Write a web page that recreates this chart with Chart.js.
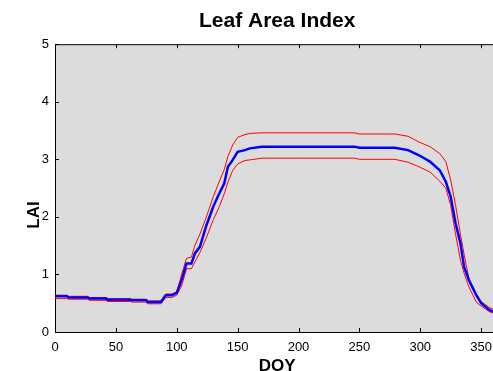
<!DOCTYPE html>
<html>
<head>
<meta charset="utf-8">
<script src="https://cdn.jsdelivr.net/npm/chart.js@4.4.0/dist/chart.umd.min.js"></script>
<style>
    html, body { margin: 0; padding: 0; overflow: hidden; background: #ffffff; }
    #wrap { position: relative; width: 500px; height: 371px; }
</style>
</head>
<body>
<div id="wrap"><canvas id="laiChart"></canvas></div>
<script>
// Dados
const doy = [0, 10, 11, 27, 28, 42, 43, 62, 63, 75, 76, 87, 91, 96, 100, 104, 108, 112, 115, 119,
    124, 130, 135, 139, 142, 146, 150, 156, 160, 170, 200, 246, 250, 279, 290, 299, 308, 316,
    321, 325, 329, 333, 336, 340, 346, 350, 357, 365];
const laiMean = [0.62, 0.62, 0.60, 0.60, 0.58, 0.58, 0.56, 0.56, 0.55, 0.55, 0.52, 0.52, 0.64, 0.64, 0.68, 0.90, 1.19, 1.19, 1.37, 1.48,
    1.83, 2.18, 2.41, 2.58, 2.87, 2.99, 3.13, 3.16, 3.19, 3.22, 3.22, 3.22, 3.20, 3.20, 3.16, 3.07, 2.96, 2.81,
    2.61, 2.35, 1.89, 1.54, 1.13, 0.90, 0.64, 0.50, 0.38, 0.32];
const laiUpper = [0.64, 0.64, 0.62, 0.62, 0.60, 0.60, 0.58, 0.58, 0.57, 0.57, 0.54, 0.54, 0.66, 0.66, 0.70, 1.00, 1.28, 1.30, 1.51, 1.70,
    1.98, 2.35, 2.62, 2.82, 3.05, 3.25, 3.38, 3.43, 3.45, 3.46, 3.46, 3.46, 3.44, 3.44, 3.40, 3.30, 3.22, 3.10,
    2.96, 2.64, 2.20, 1.70, 1.35, 0.92, 0.66, 0.53, 0.42, 0.36];
const laiLower = [0.58, 0.58, 0.57, 0.57, 0.55, 0.55, 0.53, 0.53, 0.52, 0.52, 0.49, 0.49, 0.60, 0.60, 0.64, 0.80, 1.10, 1.10, 1.22, 1.38,
    1.62, 1.95, 2.18, 2.40, 2.60, 2.81, 2.92, 2.98, 2.99, 3.02, 3.02, 3.02, 3.00, 3.00, 2.95, 2.87, 2.78, 2.62,
    2.50, 2.20, 1.70, 1.25, 1.02, 0.78, 0.52, 0.45, 0.35, 0.30];
const xTicks = [0, 50, 100, 150, 200, 250, 300, 350];
const yTicks = [0, 1, 2, 3, 4, 5];

const FONT = '"Liberation Sans", Arial, sans-serif';

function toPoints(vals) {
    return doy.map(function(d, i) { return { x: d, y: vals[i] }; });
}

// fundo cinza + moldura + ticks para dentro (estilo MATLAB) + rótulo LAI
const plotFrame = {
    id: 'plotFrame',
    beforeDraw: function(chart) {
        const a = chart.chartArea;
        const ctx = chart.ctx;
        ctx.save();
        ctx.fillStyle = '#dcdcdc';
        ctx.fillRect(a.left, a.top, a.right - a.left, a.bottom - a.top);
        ctx.restore();
    },
    afterDraw: function(chart) {
        const a = chart.chartArea;
        const ctx = chart.ctx;
        const xs = chart.scales.x;
        const ys = chart.scales.y;
        ctx.save();
        ctx.strokeStyle = '#000000';
        ctx.lineWidth = 1;
        ctx.beginPath();
        ctx.moveTo(a.left, a.top + 0.5);
        ctx.lineTo(a.right, a.top + 0.5);
        xTicks.forEach(function(v) {
            const px = Math.round(xs.getPixelForValue(v)) + 0.5;
            ctx.moveTo(px, a.bottom);
            ctx.lineTo(px, a.bottom - 4);
            ctx.moveTo(px, a.top);
            ctx.lineTo(px, a.top + 4);
        });
        yTicks.forEach(function(v) {
            const py = Math.round(ys.getPixelForValue(v)) + 0.5;
            ctx.moveTo(a.left, py);
            ctx.lineTo(a.left + 4, py);
        });
        ctx.stroke();

        // rótulo do eixo y (um pouco abaixo do centro, como no original)
        ctx.translate(34, 215);
        ctx.rotate(-Math.PI / 2);
        ctx.fillStyle = '#000000';
        ctx.font = 'bold 17px ' + FONT;
        ctx.textAlign = 'center';
        ctx.textBaseline = 'middle';
        ctx.fillText('LAI', 0, 0);
        ctx.restore();
    }
};

const ctx = document.getElementById('laiChart').getContext('2d');

new Chart(ctx, {
    type: 'line',
    data: {
        datasets: [
            { data: toPoints(laiMean), borderColor: '#0000ff', borderWidth: 2.5 },
            { data: toPoints(laiUpper), borderColor: '#ff0000', borderWidth: 1 },
            { data: toPoints(laiLower), borderColor: '#ff0000', borderWidth: 1 }
        ]
    },
    options: {
        responsive: true,
        maintainAspectRatio: false,
        animation: false,
        elements: {
            point: { radius: 0 },
            line: { tension: 0 }
        },
        layout: { padding: { left: 0, right: 0, top: 0, bottom: 0 } },
        plugins: {
            legend: { display: false },
            tooltip: { enabled: false },
            title: {
                display: true,
                text: 'Leaf Area Index',
                fullSize: false,
                color: '#000000',
                font: { family: FONT, size: 21, weight: 'bold' },
                padding: { top: 9, bottom: 10 }
            }
        },
        scales: {
            x: {
                type: 'linear',
                min: 0,
                max: 365,
                afterBuildTicks: function(scale) {
                    scale.ticks = xTicks.map(function(v) { return { value: v }; });
                },
                afterFit: function(scale) { scale.height = 39; },
                grid: { display: false, drawTicks: false, tickLength: 0 },
                border: { display: true, color: '#000000', width: 1 },
                ticks: {
                    color: '#000000',
                    padding: 8,
                    maxRotation: 0,
                    autoSkip: false,
                    font: { family: FONT, size: 13 }
                },
                title: {
                    display: true,
                    text: 'DOY',
                    color: '#000000',
                    font: { family: FONT, size: 17, weight: 'bold', lineHeight: 1.0 },
                    padding: { top: 0, bottom: -4 }
                }
            },
            y: {
                min: 0,
                max: 5,
                afterBuildTicks: function(scale) {
                    scale.ticks = yTicks.map(function(v) { return { value: v }; });
                },
                afterFit: function(scale) { scale.width = 55; },
                grid: { display: false, drawTicks: false, tickLength: 0 },
                border: { display: true, color: '#000000', width: 1 },
                ticks: {
                    color: '#000000',
                    padding: 6,
                    font: { family: FONT, size: 13 }
                }
            }
        }
    },
    plugins: [plotFrame]
});
</script>
</body>
</html>
